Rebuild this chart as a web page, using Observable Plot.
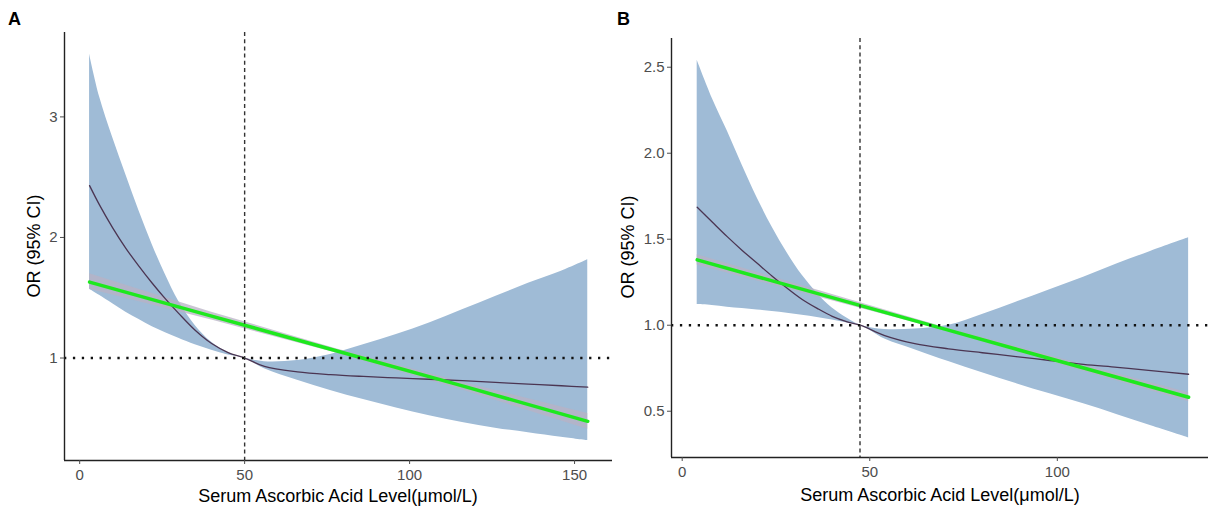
<!DOCTYPE html>
<html>
<head>
<meta charset="utf-8">
<script src="https://cdn.jsdelivr.net/npm/d3@7"></script>
<script src="https://cdn.jsdelivr.net/npm/@observablehq/plot@0.6"></script>
<style>
  body { margin: 0; background: #fff; font-family: Arial, "Liberation Sans", sans-serif; }
  #wrap { position: relative; width: 1212px; height: 511px; overflow: hidden; }
  .panel { position: absolute; top: 0; }
  .lab { position: absolute; font-weight: bold; font-size: 18px; color: #000; }
  .xt { position: absolute; font-size: 18px; color: #000; white-space: nowrap; transform: translate(-50%, -50%); }
  .yt { position: absolute; font-size: 18px; color: #000; white-space: nowrap; transform: translate(-50%, -50%) rotate(-90deg); }
</style>
</head>
<body>
<div id="wrap"></div>
<script>
// ---------------- Data: panel A ----------------
const aX      = [3, 6, 10, 14, 18, 22, 26, 30, 35, 40, 45, 50, 56, 66, 76, 86, 96, 106, 116, 126, 136, 146, 154];
const aUpper  = [3.52, 3.17, 2.83, 2.52, 2.22, 1.94, 1.69, 1.47, 1.27, 1.13, 1.045, 1.00, 0.97, 0.98, 1.03, 1.11, 1.195, 1.29, 1.40, 1.51, 1.62, 1.72, 1.815];
const aLower  = [1.57, 1.52, 1.45, 1.38, 1.32, 1.26, 1.21, 1.165, 1.11, 1.065, 1.025, 1.00, 0.91, 0.815, 0.73, 0.655, 0.585, 0.522, 0.465, 0.418, 0.38, 0.343, 0.315];
const aCenter = [2.43, 2.27, 2.08, 1.91, 1.76, 1.62, 1.49, 1.37, 1.23, 1.12, 1.045, 1.00, 0.93, 0.885, 0.862, 0.847, 0.835, 0.824, 0.812, 0.798, 0.783, 0.77, 0.758];
const aLinX   = [3, 40, 78, 116, 154];
const aLin    = [1.63, 1.348, 1.058, 0.769, 0.475];
const aLinLo  = [1.57, 1.315, 1.04, 0.735, 0.41];
const aLinHi  = [1.70, 1.38, 1.075, 0.80, 0.54];
const aRef = 50;
const aXDomain = [-4.6, 161.5];
const aYDomain = [0.15, 3.70];
const aXTicks = [0, 50, 100, 150];
const aYTicks = [1, 2, 3];

// ---------------- Data: panel B ----------------
const bX      = [4, 8, 12, 16, 20, 24, 28, 32, 36, 40, 44, 47.5, 54, 62, 71, 80, 89, 98, 107, 116, 125, 135];
const bUpper  = [2.54, 2.32, 2.13, 1.93, 1.74, 1.57, 1.42, 1.29, 1.185, 1.10, 1.04, 1.00, 0.975, 0.978, 1.00, 1.063, 1.134, 1.206, 1.279, 1.357, 1.43, 1.508];
const bLower  = [1.12, 1.115, 1.105, 1.097, 1.088, 1.08, 1.07, 1.058, 1.045, 1.03, 1.013, 1.00, 0.92, 0.858, 0.789, 0.724, 0.661, 0.601, 0.543, 0.48, 0.415, 0.345];
const bCenter = [1.686, 1.60, 1.515, 1.435, 1.36, 1.285, 1.215, 1.15, 1.098, 1.052, 1.02, 1.00, 0.94, 0.893, 0.863, 0.84, 0.818, 0.795, 0.773, 0.755, 0.736, 0.715];
const bLinX   = [4, 70, 135];
const bLin    = [1.38, 0.977, 0.581];
const bLinLo  = [1.35, 0.968, 0.555];
const bLinHi  = [1.41, 0.987, 0.607];
const bRef = 47.4;
const bXDomain = [-2.85, 140.3];
const bYDomain = [0.231, 2.667];
const bXTicks = [0, 50, 100];
const bYTicks = [0.5, 1.0, 1.5, 2.0, 2.5];

const xTitle = "Serum Ascorbic Acid Level(μmol/L)";
const yTitle = "OR (95% CI)";

function panel(o) {
  const band = o.x.map((x, i) => ({x, lo: o.lower[i], hi: o.upper[i], c: o.center[i]}));
  const lin = o.linX.map((x, i) => ({x, y: o.lin[i], lo: o.linLo[i], hi: o.linHi[i]}));
  return Plot.plot({
    width: o.width, height: 511,
    marginLeft: o.ml, marginRight: o.mr, marginTop: o.mt, marginBottom: o.mb,
    style: { fontFamily: "Arial, 'Liberation Sans', sans-serif", fontSize: "15px", background: "transparent", overflow: "visible" },
    x: { domain: o.xDomain },
    y: { domain: o.yDomain },
    marks: [
      Plot.areaY(band, { x: "x", y1: "lo", y2: "hi", fill: "#9fbbd6", curve: "catmull-rom" }),
      Plot.areaY(lin, { x: "x", y1: "lo", y2: "hi", fill: "#b8b2c4", fillOpacity: 0.75 }),
      Plot.line(band, { x: "x", y: "c", stroke: "#4b3552", strokeWidth: 1.3, curve: "catmull-rom" }),
      Plot.line(lin, { x: "x", y: "y", stroke: "#1ee81e", strokeWidth: 3.5 }),
      Plot.ruleY([1], { stroke: "#111", strokeWidth: 2.3, strokeDasharray: "2.3,6.6" }),
      Plot.ruleX([o.ref], { stroke: "#333", strokeWidth: 1.4, strokeDasharray: "4,3.2" }),
      Plot.ruleX([o.xDomain[0]], { stroke: "#222", strokeWidth: 1.4 }),
      Plot.ruleY([o.yDomain[0]], { stroke: "#222", strokeWidth: 1.4 }),
      Plot.axisX({ ticks: o.xTicks, tickSize: 4, tickPadding: 5, color: "#4d4d4d", fontSize: 15, label: null }),
      Plot.axisY({ ticks: o.yTicks, tickSize: 4, tickPadding: 3, color: "#4d4d4d", fontSize: 15, label: null, tickFormat: o.fmt })
    ]
  });
}

const wrap = document.getElementById("wrap");
function place(el, left) { el.classList.add("panel"); el.style.left = left + "px"; wrap.appendChild(el); }

place(panel({
  width: 615, ml: 64, mr: 3, mt: 32, mb: 51,
  x: aX, upper: aUpper, lower: aLower, center: aCenter,
  linX: aLinX, lin: aLin, linLo: aLinLo, linHi: aLinHi,
  ref: aRef, xDomain: aXDomain, yDomain: aYDomain, xTicks: aXTicks, yTicks: aYTicks, fmt: d3.format("d")
}), 0);

place(panel({
  width: 597, ml: 56, mr: 4, mt: 38, mb: 54,
  x: bX, upper: bUpper, lower: bLower, center: bCenter,
  linX: bLinX, lin: bLin, linLo: bLinLo, linHi: bLinHi,
  ref: bRef, xDomain: bXDomain, yDomain: bYDomain, xTicks: bXTicks, yTicks: bYTicks, fmt: d3.format(".1f")
}), 615);

function addText(cls, text, left, top) {
  const d = document.createElement("div");
  d.className = cls; d.textContent = text;
  d.style.left = left + "px"; d.style.top = top + "px";
  wrap.appendChild(d);
}
addText("lab", "A", 8, 9);
addText("lab", "B", 617, 9);
addText("xt", xTitle, 338, 496);
addText("xt", xTitle, 940, 495);
addText("yt", yTitle, 34, 246);
addText("yt", yTitle, 628, 247);
</script>
</body>
</html>
